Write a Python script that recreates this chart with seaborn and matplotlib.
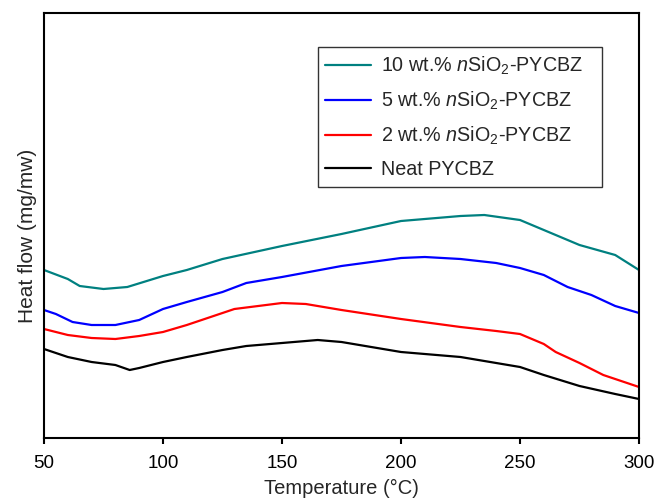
import matplotlib
matplotlib.use("Agg")
import matplotlib.pyplot as plt
import seaborn as sns
import pandas as pd

# Data (arbitrary heat-flow units)
t_10 = [50, 60, 65, 75, 85, 100, 110, 125, 150, 175, 200, 225, 235, 250, 260, 275, 290, 300]
h_10 = [1.68, 1.59, 1.52, 1.49, 1.51, 1.62, 1.68, 1.79, 1.92, 2.04, 2.17, 2.22, 2.23, 2.18, 2.08, 1.93, 1.83, 1.68]

t_5 = [50, 55, 62, 70, 80, 90, 100, 110, 125, 135, 150, 175, 200, 210, 225, 240, 250, 260, 270, 280, 290, 300]
h_5 = [1.28, 1.24, 1.16, 1.13, 1.13, 1.18, 1.29, 1.36, 1.46, 1.55, 1.61, 1.72, 1.80, 1.81, 1.79, 1.75, 1.70, 1.63, 1.51, 1.43, 1.32, 1.25]

t_2 = [50, 60, 70, 80, 90, 100, 110, 125, 130, 150, 160, 175, 200, 225, 240, 250, 255, 260, 265, 275, 285, 300]
h_2 = [1.09, 1.03, 1.00, 0.99, 1.02, 1.06, 1.13, 1.25, 1.29, 1.35, 1.34, 1.28, 1.19, 1.11, 1.07, 1.04, 0.99, 0.94, 0.86, 0.75, 0.63, 0.51]

t_0 = [50, 60, 70, 80, 86, 90, 100, 110, 125, 135, 150, 165, 175, 200, 225, 250, 260, 275, 290, 300]
h_0 = [0.89, 0.81, 0.76, 0.73, 0.68, 0.70, 0.76, 0.81, 0.88, 0.92, 0.95, 0.98, 0.96, 0.86, 0.81, 0.71, 0.63, 0.52, 0.44, 0.39]

labels = [r"10 wt.% $\mathit{n}$SiO$_2$-PYCBZ",
          r"5 wt.% $\mathit{n}$SiO$_2$-PYCBZ",
          r"2 wt.% $\mathit{n}$SiO$_2$-PYCBZ",
          "Neat PYCBZ"]
colors = ["#008080", "#0000FF", "#FF0000", "#000000"]
x_ticks = [50, 100, 150, 200, 250, 300]

frames = []
for lab, t, h in zip(labels, [t_10, t_5, t_2, t_0], [h_10, h_5, h_2, h_0]):
    frames.append(pd.DataFrame({"T": t, "H": h, "Sample": lab}))
df = pd.concat(frames, ignore_index=True)

sns.set_style("ticks")
plt.rcParams["font.family"] = ["Liberation Sans", "DejaVu Sans"]
plt.rcParams["mathtext.fontset"] = "custom"
plt.rcParams["mathtext.rm"] = "Liberation Sans"
plt.rcParams["mathtext.it"] = "Liberation Sans:italic"

fig = plt.figure(figsize=(6.58, 4.99), dpi=100)
ax = fig.add_axes([44 / 658, 61 / 499, 595 / 658, 425 / 499])

sns.lineplot(data=df, x="T", y="H", hue="Sample", hue_order=labels,
             palette=dict(zip(labels, colors)), linewidth=1.6, ax=ax, sort=False)

ax.set_xlim(50, 300)
ax.set_ylim(0, 4.25)
ax.set_xticks(x_ticks)
ax.set_xticklabels([str(v) for v in x_ticks])
ax.set_yticks([])
ax.tick_params(axis="x", direction="out", length=4, width=1.5, labelsize=13.5, pad=8.5, colors="black")
for s in ax.spines.values():
    s.set_linewidth(1.5)
    s.set_color("black")
    s.set_visible(True)

ax.set_xlabel("Temperature (°C)", fontsize=14.5, labelpad=5)
ax.set_ylabel("Heat flow (mg/mw)", fontsize=15)
ax.yaxis.set_label_coords(-0.012, 0.475)

handles, _ = ax.get_legend_handles_labels()
leg = ax.legend(handles, [l + "   " for l in labels],
                loc="upper right", bbox_to_anchor=(558 / 595, 391 / 425), borderaxespad=0,
                fontsize=14.2, frameon=True, fancybox=False, edgecolor="black",
                handlelength=2.3, handletextpad=0.5, labelspacing=0.65,
                borderpad=0.4, title=None)
leg.get_frame().set_linewidth(1.0)
for line in leg.get_lines():
    line.set_linewidth(1.6)

fig.savefig("out.png", dpi=100)
